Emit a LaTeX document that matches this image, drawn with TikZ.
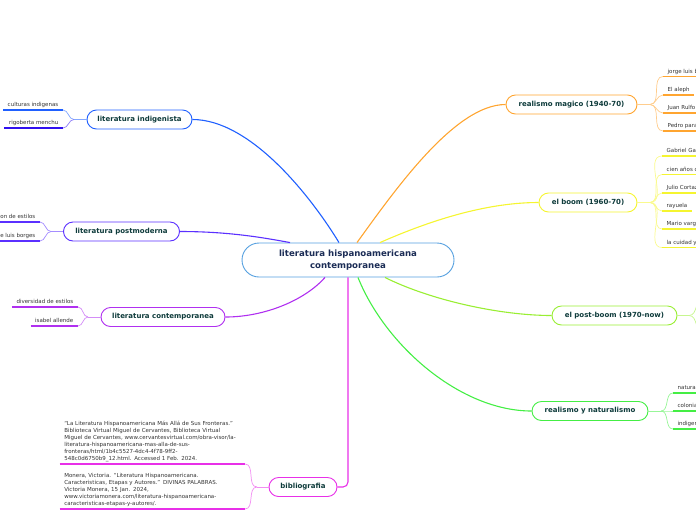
\documentclass[tikz,border=0pt]{standalone}
\usepackage{fontspec}
\setmainfont{DejaVu Sans}
\usetikzlibrary{calc}
\definecolor{cIndig}{HTML}{2060FF}
\definecolor{cIndigB}{HTML}{3010F0}
\definecolor{cPostm}{HTML}{5B30FF}
\definecolor{cContemp}{HTML}{B030F0}
\definecolor{cBib}{HTML}{E830E8}
\definecolor{cMagico}{HTML}{FFA530}
\definecolor{cBoom}{HTML}{F5F530}
\definecolor{cPostboom}{HTML}{99EE33}
\definecolor{cRealnat}{HTML}{44EE44}
\definecolor{cCentral}{HTML}{55A0E0}
\definecolor{topictext}{HTML}{0E3B3B}
\definecolor{centraltext}{HTML}{1B2C55}
\definecolor{leaftext}{HTML}{333333}
\tikzset{
  topic/.style={draw=#1, line width=0.9pt, fill=white, rounded corners=9.5pt,
    minimum height=19pt, inner sep=0pt, text=topictext,
    font=\fontsize{7}{8}\selectfont\bfseries},
  conn/.style={draw=#1, line width=1.1pt},
  brk/.style={draw=#1!55, line width=0.7pt},
  leafR/.style={anchor=south west, inner xsep=4.5pt, inner ysep=2pt,
    text height=4.2pt, text depth=1.2pt, text=leaftext,
    font=\fontsize{5.5}{6.5}\selectfont},
  leafL/.style={leafR, anchor=south east},
  biblio/.style={anchor=south east, inner xsep=4.5pt, inner ysep=2pt,
    text width=176pt, align=left, text=leaftext,
    font=\fontsize{5.5}{7.1}\selectfont},
  uline/.style={draw=#1, line width=1.3pt},
}
\begin{document}
\begin{tikzpicture}[x=1pt,y=-1pt]
\useasboundingbox (0,0) rectangle (696,520);
\clip (0,0) rectangle (696,520);

% central
\node[draw=cCentral, line width=0.9pt, fill=white, rounded corners=17pt,
  minimum width=212pt, minimum height=34pt, inner sep=0pt, align=center,
  text=centraltext, font=\fontsize{8.6}{12.7}\selectfont\bfseries]
  (c) at (348,260) {literatura hispanoamericana\\contemporanea};

% topics
\node[topic=cIndig, minimum width=105pt] (ind) at (139.5,119.5) {literatura indigenista};
\node[topic=cPostm, minimum width=116pt] (pm) at (121.5,231.5) {literatura postmoderna};
\node[topic=cContemp, minimum width=124pt] (ct) at (163,317) {literatura contemporanea};
\node[topic=cBib, minimum width=68pt] (bib) at (303,487) {bibliografia};
\node[topic=cMagico, minimum width=131pt] (mag) at (571.5,104.5) {realismo magico (1940-70)};
\node[topic=cBoom, minimum width=98pt] (boom) at (588,202.5) {el boom (1960-70)};
\node[topic=cPostboom, minimum width=125pt] (pb) at (614.5,315.5) {el post-boom (1970-now)};
\node[topic=cRealnat, minimum width=116pt] (rn) at (590,411) {realismo y naturalismo};

% main connectors
\draw[conn=cIndig] ([xshift=-9pt]c.north) .. controls (310,195) and (250,119.5) .. (ind.east);
\draw[conn=cPostm] ([xshift=-58pt]c.north) .. controls (265,238) and (230,231.5) .. (pm.east);
\draw[conn=cContemp] ([xshift=-23pt]c.south) .. controls (305,300) and (265,317) .. (ct.east);
\draw[conn=cBib, rounded corners=5pt] (c.south) |- (bib.east);
\draw[conn=cMagico] ([xshift=9pt]c.north) .. controls (395,190) and (455,104.5) .. (mag.west);
\draw[conn=cBoom] ([xshift=32pt]c.north) .. controls (420,225) and (480,202.5) .. (boom.west);
\draw[conn=cPostboom] ([xshift=37pt]c.south) .. controls (430,300) and (500,315.5) .. (pb.west);
\draw[conn=cRealnat] ([xshift=10pt]c.south) .. controls (385,345) and (460,411) .. (rn.west);

% realismo magico leaves
\node[leafR] (m1) at (663,76.5) {jorge luis borges};
\node[leafR] (m2) at (663,95) {El aleph};
\node[leafR] (m3) at (663,113) {Juan Rulfo};
\node[leafR] (m4) at (663,131) {Pedro paramo};
\coordinate (jm) at (650,104.5);
\draw[brk=cMagico] (mag.east) -- (jm);
\foreach \n in {m1,m2,m3,m4} {
  \draw[brk=cMagico] (jm) to[out=0,in=180] (\n.south west);
  \draw[uline=cMagico] (\n.south west) -- (\n.south east);
}

% el boom leaves
\node[leafR] (b1) at (662,156) {Gabriel Garcia Marquez};
\node[leafR] (b2) at (662,174.5) {cien años de soledad};
\node[leafR] (b3) at (662,193) {Julio Cortazar};
\node[leafR] (b4) at (662,211) {rayuela};
\node[leafR] (b5) at (662,229) {Mario vargas llosa};
\node[leafR] (b6) at (662,247.5) {la cuidad y los perros};
\coordinate (jb) at (650,202.5);
\draw[brk=cBoom] (boom.east) -- (jb);
\foreach \n in {b1,b2,b3,b4,b5,b6} {
  \draw[brk=cBoom] (jb) to[out=0,in=180] (\n.south west);
  \draw[uline=cBoom] (\n.south west) -- (\n.south east);
}

% post-boom (children beyond the edge)
\coordinate (jp) at (689,315.5);
\coordinate (pbu) at (704,297);
\coordinate (pbd) at (704,334);
\draw[brk=cPostboom] (pb.east) -- (jp);
\draw[brk=cPostboom] (jp) to[out=0,in=180] (pbu);
\draw[brk=cPostboom] (jp) to[out=0,in=180] (pbd);

% realismo y naturalismo leaves
\node[leafR] (r1) at (673,393) {naturalismo};
\node[leafR] (r2) at (673,411) {colonialismo};
\node[leafR] (r3) at (673,429) {indigenismo};
\coordinate (jr) at (661,411);
\draw[brk=cRealnat] (rn.east) -- (jr);
\foreach \n in {r1,r2,r3} {
  \draw[brk=cRealnat] (jr) to[out=0,in=180] (\n.south west);
  \draw[uline=cRealnat] (\n.south west) -- (\n.south east);
}

% indigenista leaves
\node[leafL] (i1) at (63,110) {culturas indigenas};
\node[leafL] (i2) at (63,128) {rigoberta menchu};
\coordinate (ji) at (74,119.5);
\draw[brk=cIndig] (ind.west) -- (ji);
\draw[brk=cIndig] (ji) to[out=180,in=0] (i1.south east);
\draw[brk=cIndigB] (ji) to[out=180,in=0] (i2.south east);
\draw[uline=cIndig] (i1.south west) -- (i1.south east);
\draw[uline=cIndigB] (i2.south west) -- (i2.south east);

% postmoderna leaves
\node[leafL] (p1) at (40,222) {combinacion de estilos};
\node[leafL] (p2) at (40,241) {jorge luis borges};
\coordinate (jpm) at (51,231.5);
\draw[brk=cPostm] (pm.west) -- (jpm);
\foreach \n in {p1,p2} {
  \draw[brk=cPostm] (jpm) to[out=180,in=0] (\n.south east);
  \draw[uline=cPostm] (\n.south west) -- (\n.south east);
}

% contemporanea leaves
\node[leafL] (k1) at (78,307) {diversidad de estilos};
\node[leafL] (k2) at (78,326) {isabel allende};
\coordinate (jk) at (88,317);
\draw[brk=cContemp] (ct.west) -- (jk);
\foreach \n in {k1,k2} {
  \draw[brk=cContemp] (jk) to[out=180,in=0] (\n.south east);
  \draw[uline=cContemp] (\n.south west) -- (\n.south east);
}

% bibliografia leaves
\node[biblio] (bb1) at (245,464) {“La Literatura Hispanoamericana Más Allá de Sus Fronteras.”\\
Biblioteca Virtual Miguel de Cervantes, Biblioteca Virtual\\
Miguel de Cervantes, www.cervantesvirtual.com/obra-visor/la-\\
literatura-hispanoamericana-mas-alla-de-sus-\\
fronteras/html/1b4c5527-4dc4-4f78-9ff2-\\
548c0d6750b9\_12.html. Accessed 1 Feb. 2024.};
\node[biblio] (bb2) at (245,509) {Monera, Victoria. “Literatura Hispanoamericana.\\
Caracteristicas, Etapas y Autores.” DIVINAS PALABRAS.\\
Victoria Monera, 15 Jan. 2024,\\
www.victoriamonera.com/literatura-hispanoamericana-\\
caracteristicas-etapas-y-autores/.};
\coordinate (jbib) at (257,487);
\draw[brk=cBib] (bib.west) -- (jbib);
\foreach \n in {bb1,bb2} {
  \draw[brk=cBib] (jbib) to[out=180,in=0] (\n.south east);
  \draw[uline=cBib] (\n.south west) -- (\n.south east);
}
\end{tikzpicture}
\end{document}
